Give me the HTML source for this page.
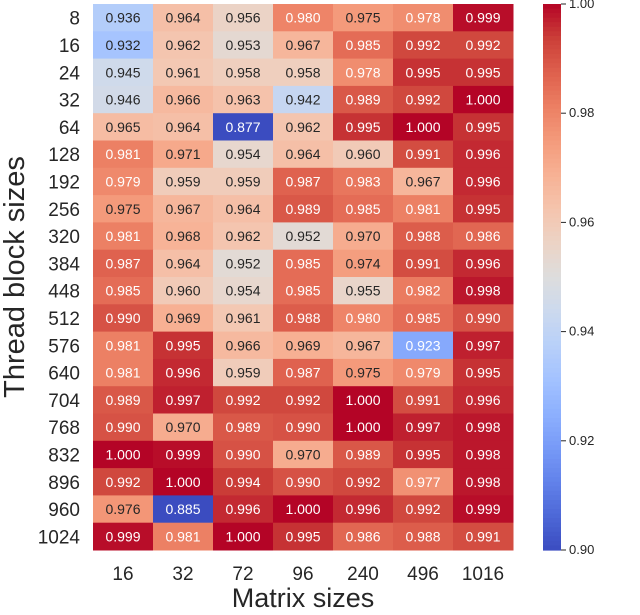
<!DOCTYPE html>
<html><head><meta charset="utf-8"><style>
body{margin:0;background:#fff;width:640px;height:610px;overflow:hidden;font-family:"Liberation Sans",sans-serif}
</style></head><body>
<svg id="chart" width="640" height="610" xmlns="http://www.w3.org/2000/svg"></svg>
<script>
const cols=["16","32","72","96","240","496","1016"];
const rows=["8","16","24","32","64","128","192","256","320","384","448","512","576","640","704","768","832","896","960","1024"];
const values=[
[0.936,0.964,0.956,0.980,0.975,0.978,0.999],
[0.932,0.962,0.953,0.967,0.985,0.992,0.992],
[0.945,0.961,0.958,0.958,0.978,0.995,0.995],
[0.946,0.966,0.963,0.942,0.989,0.992,1.000],
[0.965,0.964,0.877,0.962,0.995,1.000,0.995],
[0.981,0.971,0.954,0.964,0.960,0.991,0.996],
[0.979,0.959,0.959,0.987,0.983,0.967,0.996],
[0.975,0.967,0.964,0.989,0.985,0.981,0.995],
[0.981,0.968,0.962,0.952,0.970,0.988,0.986],
[0.987,0.964,0.952,0.985,0.974,0.991,0.996],
[0.985,0.960,0.954,0.985,0.955,0.982,0.998],
[0.990,0.969,0.961,0.988,0.980,0.985,0.990],
[0.981,0.995,0.966,0.969,0.967,0.923,0.997],
[0.981,0.996,0.959,0.987,0.975,0.979,0.995],
[0.989,0.997,0.992,0.992,1.000,0.991,0.996],
[0.990,0.970,0.989,0.990,1.000,0.997,0.998],
[1.000,0.999,0.990,0.970,0.989,0.995,0.998],
[0.992,1.000,0.994,0.990,0.992,0.977,0.998],
[0.976,0.885,0.996,1.000,0.996,0.992,0.999],
[0.999,0.981,1.000,0.995,0.986,0.988,0.991]];
const cbTicks=[1.00,0.98,0.96,0.94,0.92,0.90];
const vmin=0.90,vmax=1.00;
const L=93,R=513,T=4,B=550;
const cw=(R-L)/cols.length,rh=(B-T)/rows.length;
const xPos=i=>L+i*cw, yPos=j=>T+j*rh;
const stops=[[59,76,192],[77,104,215],[98,130,234],[119,154,247],[141,176,254],[163,194,255],[184,208,249],[204,217,238],[221,221,221],[236,211,197],[245,196,173],[247,177,148],[244,154,123],[236,127,99],[222,96,77],[203,62,56],[180,4,38]];
function cmap(v){let t=Math.max(0,Math.min(1,(v-vmin)/(vmax-vmin)))*(stops.length-1);let i=Math.min(stops.length-2,Math.floor(t)),f=t-i;
return stops[i].map((c,k)=>Math.round(c+(stops[i+1][k]-c)*f));}
function textCol(v){return (v>=0.977||v<=0.925)?'#fff':'#262626';}
const svg=document.getElementById('chart');const NS="http://www.w3.org/2000/svg";
function mk(tag,attrs,txt){const e=document.createElementNS(NS,tag);for(const k in attrs)e.setAttribute(k,attrs[k]);if(txt!==undefined)e.textContent=txt;svg.appendChild(e);return e;}
values.forEach((row,j)=>row.forEach((v,i)=>{const c=cmap(v);
const r=mk('rect',{x:xPos(i),y:yPos(j),width:cw+0.5,height:rh+0.5,fill:`rgb(${c})`});


const t=mk('text',{x:xPos(i)+cw/2,y:yPos(j)+rh/2+5,'text-anchor':'middle','font-size':14,fill:textCol(v)},v.toFixed(3));


}));
rows.forEach((r,j)=>{const t=mk('text',{x:80,y:yPos(j)+rh/2+7,'text-anchor':'end','font-size':19,fill:'#262626'},r);

});
cols.forEach((c,i)=>{const t=mk('text',{x:xPos(i)+cw/2,y:580,'text-anchor':'middle','font-size':19,fill:'#262626'},c);

});
const xt=mk('text',{x:(L+R)/2,y:607,'text-anchor':'middle','font-size':27,fill:'#262626'},'Matrix sizes');


const yt=mk('text',{x:0,y:0,transform:`translate(24,${(T+B)/2}) rotate(-90)`,'text-anchor':'middle','font-size':29,fill:'#262626'},'Thread block sizes');


const CX=543,CW=18,N=120;
for(let k=0;k<N;k++){const v=vmax-(k+0.5)/N*(vmax-vmin);const c=cmap(v);
const r=mk('rect',{x:CX,y:T+k*(B-T)/N,width:CW,height:(B-T)/N+0.6,fill:`rgb(${c})`});

}
const cbY=v=>T+(vmax-v)/(vmax-vmin)*(B-T);
cbTicks.forEach(v=>{const y=cbY(v);
const l=mk('line',{x1:CX+CW,x2:CX+CW+5,y1:y,y2:y,stroke:'#262626','stroke-width':1});


const t=mk('text',{x:CX+CW+8,y:y+4,'font-size':13,fill:'#262626'},v.toFixed(2));

});
</script>
</body></html>
